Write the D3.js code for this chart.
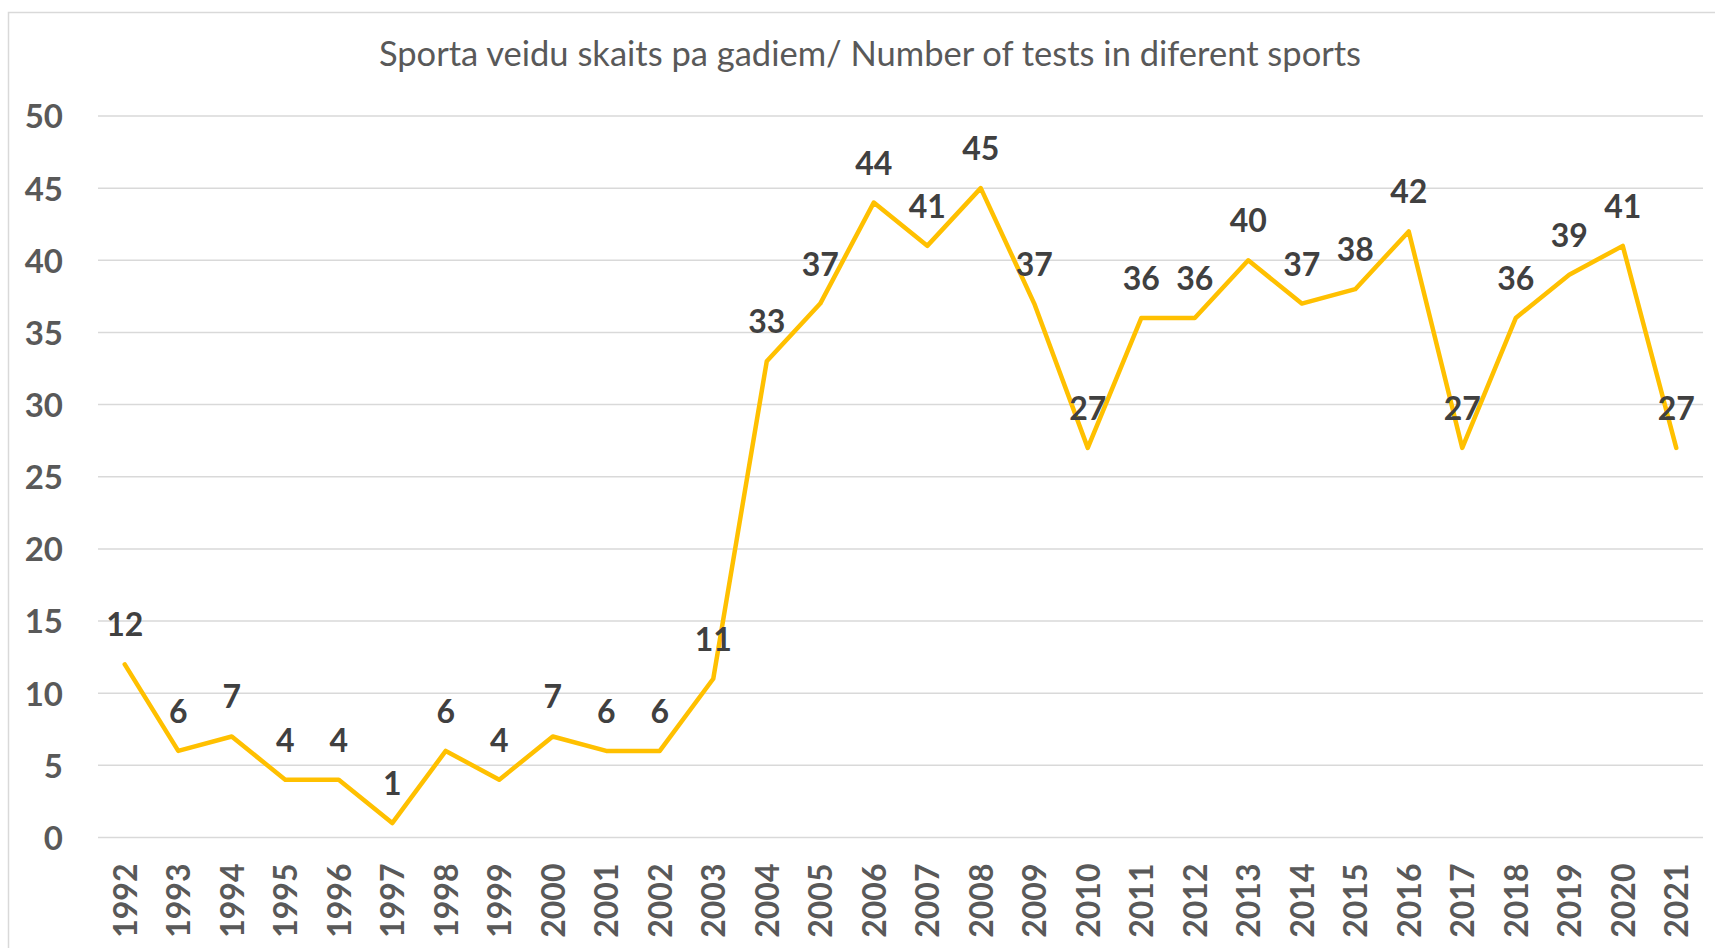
<!DOCTYPE html>
<html>
<head>
<meta charset="utf-8">
<script src="https://cdnjs.cloudflare.com/ajax/libs/d3/7.8.5/d3.min.js"></script>
<style>
  body { margin: 0; background: #fff; }
  svg { display: block; font-family: Lato, "Open Sans", sans-serif; }
</style>
</head>
<body>
<div id="chart"></div>
<script>
// Years on the x axis.
var years = ['1992', '1993', '1994', '1995', '1996', '1997', '1998', '1999', '2000',
  '2001', '2002', '2003', '2004', '2005', '2006', '2007', '2008', '2009', '2010',
  '2011', '2012', '2013', '2014', '2015', '2016', '2017', '2018', '2019', '2020', '2021'];

// Number of sports per year.
var counts = [12, 6, 7, 4, 4, 1, 6, 4, 7, 6, 6, 11, 33, 37, 44, 41, 45, 37, 27,
  36, 36, 40, 37, 38, 42, 27, 36, 39, 41, 27];

var yTicks = [0, 5, 10, 15, 20, 25, 30, 35, 40, 45, 50];

var title = 'Sporta veidu skaits pa gadiem/ Number of tests in diferent sports';

var width = 1715,
  height = 948;

var margin = { top: 116, right: 12, bottom: 110.5, left: 98 };

var svg = d3.select('#chart').append('svg')
  .attr('width', width)
  .attr('height', height);

// Chart area border (cut off at right and bottom like the picture).
svg.append('rect')
  .attr('x', 8.5)
  .attr('y', 12.5)
  .attr('width', width + 20)
  .attr('height', height + 20)
  .attr('fill', '#fff')
  .attr('stroke', '#d9d9d9')
  .attr('stroke-width', 1.5);

var x = d3.scalePoint()
  .domain(years)
  .range([margin.left, width - margin.right])
  .padding(0.5);

var y = d3.scaleLinear()
  .domain([0, 50])
  .range([height - margin.bottom, margin.top]);

// Gridlines.
svg.append('g')
  .selectAll('line')
  .data(yTicks)
  .enter().append('line')
  .attr('x1', margin.left)
  .attr('x2', width - margin.right)
  .attr('y1', function (d) { return y(d); })
  .attr('y2', function (d) { return y(d); })
  .attr('stroke', '#d9d9d9')
  .attr('stroke-width', 1.5);

// Y axis labels.
var yAxis = svg.append('g')
  .attr('transform', 'translate(63,0)')
  .call(d3.axisLeft(y).tickValues(yTicks).tickSize(0).tickPadding(0));
yAxis.select('.domain').remove();
yAxis.selectAll('text')
  .attr('fill', '#595959')
  .style('font-family', 'Lato, "Open Sans", sans-serif')
  .style('font-size', '33px')
  .style('font-weight', 'bold')
  .attr('dy', '0.36em');

// X axis labels, rotated.
var xAxis = svg.append('g')
  .attr('transform', 'translate(0,' + (height - margin.bottom) + ')')
  .call(d3.axisBottom(x).tickSize(0).tickPadding(0));
xAxis.select('.domain').remove();
xAxis.selectAll('text')
  .attr('fill', '#595959')
  .style('font-family', 'Lato, "Open Sans", sans-serif')
  .style('font-size', '32px')
  .style('font-weight', 'bold')
  .attr('text-anchor', 'end')
  .attr('transform', 'translate(0,26) rotate(-90)')
  .attr('x', 0)
  .attr('y', 0)
  .attr('dy', '0.36em');

// Line.
var line = d3.line()
  .x(function (d, i) { return x(years[i]); })
  .y(function (d) { return y(d); });

svg.append('path')
  .datum(counts)
  .attr('d', line)
  .attr('fill', 'none')
  .attr('stroke', '#ffc000')
  .attr('stroke-width', 4.5)
  .attr('stroke-linejoin', 'round')
  .attr('stroke-linecap', 'round');

// Data labels above the points.
svg.append('g')
  .selectAll('text')
  .data(counts)
  .enter().append('text')
  .attr('x', function (d, i) { return x(years[i]); })
  .attr('y', function (d) { return y(d) - 28; })
  .attr('text-anchor', 'middle')
  .attr('fill', '#404040')
  .style('font-size', '32px')
  .style('font-weight', 'bold')
  .text(function (d) { return d; });

// Title.
svg.append('text')
  .attr('x', 870)
  .attr('y', 66)
  .attr('text-anchor', 'middle')
  .attr('fill', '#595959')
  .style('font-size', '34.5px')
  .text(title);
</script>
</body>
</html>
